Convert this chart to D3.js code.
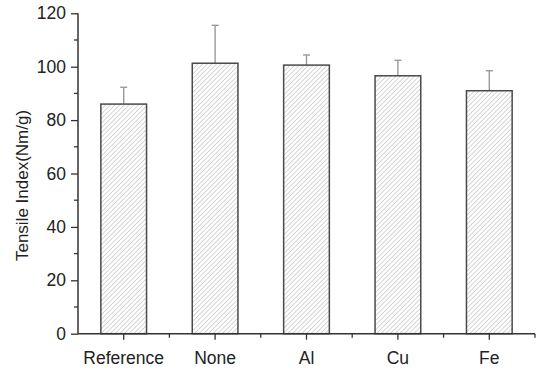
<!DOCTYPE html>
<html>
<head>
<meta charset="utf-8">
<script src="https://cdn.jsdelivr.net/npm/d3@7"></script>
<style>
  html, body { margin: 0; padding: 0; background: #fff; }
  svg { display: block; }
  text { font-family: "Liberation Sans", Arial, sans-serif; fill: #222; }
</style>
</head>
<body>
<svg id="chart" width="539" height="371"></svg>
<script>
// Tensile index by treatment
const categories = ["Reference", "None", "Al", "Cu", "Fe"];
const tensileIndex = [86.0, 101.3, 100.6, 96.6, 91.0];
const errorPlus = [6.3, 14.2, 3.8, 5.8, 7.5];
const yTicks = [0, 20, 40, 60, 80, 100, 120];
const yMinorTicks = [10, 30, 50, 70, 90, 110];

const margin = { left: 78, right: 4, top: 13.3, bottom: 37.3 };
const width = 539, height = 371;
const svg = d3.select("#chart");

const x = d3.scaleBand()
  .domain(categories)
  .range([margin.left, width - margin.right])
  .paddingInner(0.5)
  .paddingOuter(0.25);

const y = d3.scaleLinear()
  .domain([0, 120])
  .range([height - margin.bottom, margin.top]);

// diagonal hatch fill
const hs = 3.3;
const defs = svg.append("defs");
const pat = defs.append("pattern")
  .attr("id", "hatch")
  .attr("patternUnits", "userSpaceOnUse")
  .attr("width", hs)
  .attr("height", hs)
  .attr("patternTransform", "rotate(45)");
pat.append("rect").attr("width", hs).attr("height", hs).attr("fill", "#fff");
pat.append("line")
  .attr("x1", 0).attr("y1", 0).attr("x2", 0).attr("y2", hs)
  .attr("stroke", "#a0a0a0").attr("stroke-width", 0.85);

// error bars (upper only), drawn first so the bar outline sits on top
const err = svg.append("g").attr("class", "errors");
categories.forEach((c, i) => {
  const cx = x(c) + x.bandwidth() / 2;
  const top = y(tensileIndex[i] + errorPlus[i]);
  err.append("line")
    .attr("x1", cx).attr("x2", cx)
    .attr("y1", y(tensileIndex[i])).attr("y2", top)
    .attr("stroke", "#999").attr("stroke-width", 1.4);
  err.append("line")
    .attr("x1", cx - 3.5).attr("x2", cx + 3.5)
    .attr("y1", top).attr("y2", top)
    .attr("stroke", "#999").attr("stroke-width", 1.4);
});

// bars
svg.append("g").attr("class", "bars")
  .selectAll("rect")
  .data(categories)
  .join("rect")
  .attr("x", c => x(c))
  .attr("y", (c, i) => y(tensileIndex[i]))
  .attr("width", x.bandwidth())
  .attr("height", (c, i) => y(0) - y(tensileIndex[i]))
  .attr("fill", "url(#hatch)")
  .attr("stroke", "#4a4a4a")
  .attr("stroke-width", 1.5);

// y axis
const yAxis = svg.append("g")
  .attr("transform", `translate(${margin.left},0)`)
  .call(d3.axisLeft(y).tickValues(yTicks).tickSize(7).tickPadding(5).tickFormat(d3.format("d")));
yAxis.append("g").selectAll("line")
  .data(yMinorTicks)
  .join("line")
  .attr("x1", 0).attr("x2", -4)
  .attr("y1", d => y(d)).attr("y2", d => y(d))
  .attr("stroke", "#333").attr("stroke-width", 1.3);

// x axis
const xAxis = svg.append("g")
  .attr("transform", `translate(0,${y(0)})`)
  .call(d3.axisBottom(x).tickSize(6).tickPadding(12));
const boundaries = d3.range(1, categories.length + 1).map(i => margin.left + x.step() * i);
xAxis.append("g").selectAll("line")
  .data(boundaries)
  .join("line")
  .attr("x1", d => d).attr("x2", d => d)
  .attr("y1", 0).attr("y2", 4)
  .attr("stroke", "#333").attr("stroke-width", 1.3);

[yAxis, xAxis].forEach(g => {
  g.select(".domain").attr("stroke", "#333").attr("stroke-width", 1.5);
  g.selectAll(".tick line").attr("stroke", "#333").attr("stroke-width", 1.3);
  g.selectAll(".tick text")
    .style("font-family", '"Liberation Sans", Arial, sans-serif')
    .style("font-size", "17.5px")
    .attr("fill", "#222");
});
yAxis.select(".domain").attr("d", `M0,${y(0)}V${y(120)}`);
xAxis.select(".domain").attr("d", `M${margin.left},0H${width - margin.right}`);

// y axis title
svg.append("text")
  .attr("transform", `translate(27.5,${(y(0) + y(120)) / 2 + 12}) rotate(-90)`)
  .attr("text-anchor", "middle")
  .style("font-size", "17px")
  .text("Tensile Index(Nm/g)");
</script>
</body>
</html>
